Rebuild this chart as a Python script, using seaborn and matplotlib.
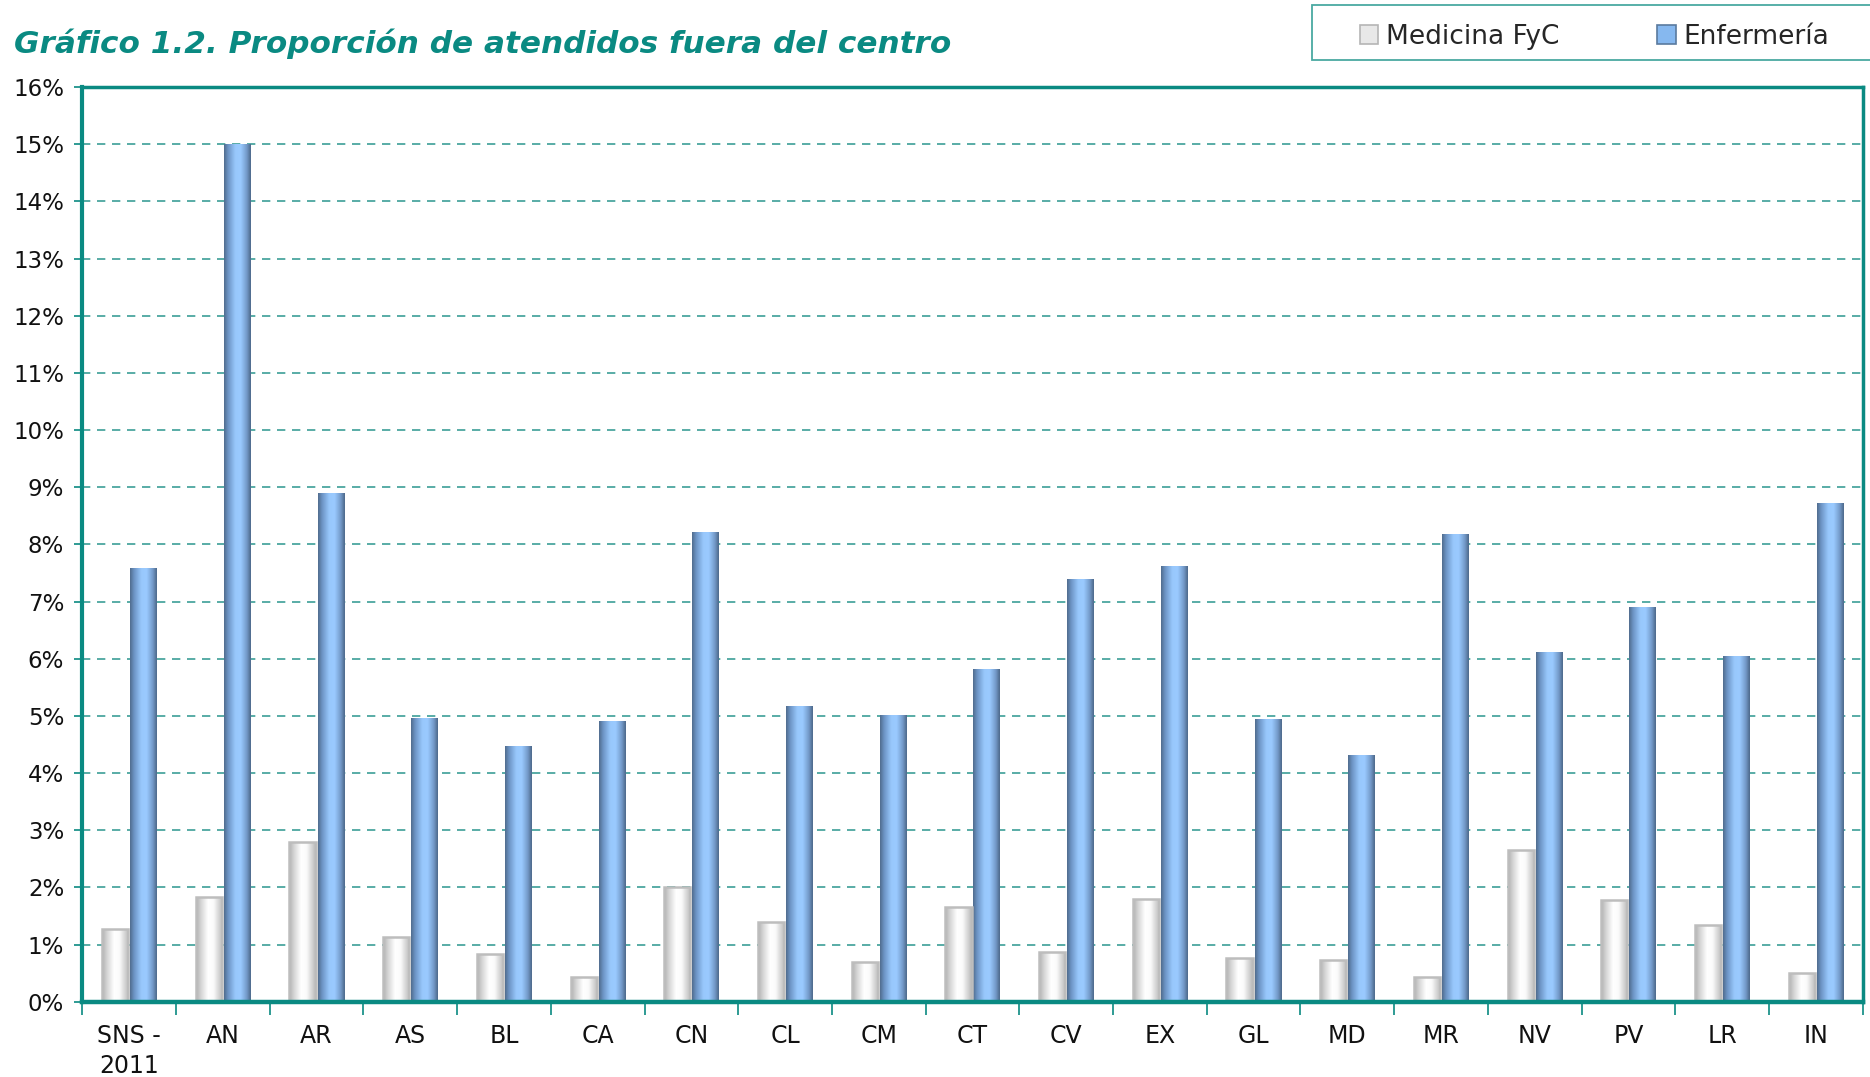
import numpy as np
import pandas as pd
import matplotlib
matplotlib.use("Agg")
import matplotlib.pyplot as plt
from matplotlib.colors import LinearSegmentedColormap
from matplotlib.patches import Patch, Rectangle
from matplotlib.ticker import FuncFormatter, FixedLocator
import seaborn as sns

# ---- data ----
regions = ["SNS -\n2011", "AN", "AR", "AS", "BL", "CA", "CN", "CL", "CM", "CT",
           "CV", "EX", "GL", "MD", "MR", "NV", "PV", "LR", "IN"]
medicina = [1.28, 1.83, 2.80, 1.14, 0.83, 0.43, 2.00, 1.40, 0.69, 1.66,
            0.87, 1.80, 0.76, 0.73, 0.44, 2.65, 1.78, 1.34, 0.51]
enfermeria = [7.59, 15.00, 8.90, 4.96, 4.48, 4.92, 8.22, 5.18, 5.01, 5.82,
              7.39, 7.63, 4.94, 4.32, 8.18, 6.11, 6.90, 6.05, 8.72]
series_names = ["Medicina FyC", "Enfermería"]
title = "Gráfico 1.2. Proporción de atendidos fuera del centro"

df = pd.DataFrame({
    "region": regions * 2,
    "serie": [series_names[0]] * len(regions) + [series_names[1]] * len(regions),
    "valor": medicina + enfermeria,
})

TEAL = "#0a8a82"
GRID = "#3c9e97"
WHITE_BASE = "#e6e6e6"
BLUE_BASE = "#7fb0e6"

sns.set_theme(style="white")
plt.rcParams["font.family"] = ["DejaVu Sans"]

fig = plt.figure(figsize=(18.7, 10.77), dpi=100)
ax = fig.add_axes([0.044, 0.0698, 0.9961 - 0.044, 0.9192 - 0.0698])

sns.barplot(data=df, x="region", y="valor", hue="serie", order=regions,
            hue_order=series_names,
            palette={series_names[0]: WHITE_BASE, series_names[1]: BLUE_BASE},
            width=0.6, gap=0.07, legend=False, ax=ax, zorder=3)

# gradient fills clipped to each bar
cm_white = LinearSegmentedColormap.from_list("w", [
    (0.0, "#aeaeae"), (0.18, "#d4d4d4"), (0.45, "#ffffff"), (0.65, "#fbfbfb"),
    (0.88, "#cfcfcf"), (1.0, "#b4b4b4")])
cm_blue = LinearSegmentedColormap.from_list("b", [
    (0.0, "#4f6b8c"), (0.15, "#6c93c4"), (0.42, "#98c8fc"), (0.62, "#9acaff"),
    (0.85, "#7399c8"), (1.0, "#4c6788")])
grad = np.linspace(0, 1, 256).reshape(1, -1)

bars = list(ax.patches)
for p in bars:
    x, y = p.get_x(), p.get_y()
    w, h = p.get_width(), p.get_height()
    fc = p.get_facecolor()
    is_white = fc[0] > 0.85 and fc[1] > 0.85
    cmap = cm_white if is_white else cm_blue
    im = ax.imshow(grad, cmap=cmap, extent=[x, x + w, y, y + h],
                   aspect="auto", zorder=4, interpolation="bicubic")
    im.set_clip_path(p)
    if is_white:
        p.set_edgecolor("#bdbdbd")
        p.set_linewidth(1.8)
        p.set_zorder(5)
        p.set_facecolor("none")
    else:
        p.set_edgecolor("none")

ax.set_xlim(-0.5, len(regions) - 0.5)
ax.set_ylim(0, 16)

# grid
for v in range(1, 16):
    ax.axhline(v, color=GRID, lw=1.2, ls=(0, (5, 4)), zorder=1)

# spines
for s in ["left", "right", "top", "bottom"]:
    ax.spines[s].set_visible(True)
    ax.spines[s].set_color(TEAL)
ax.spines["left"].set_linewidth(3)
ax.spines["bottom"].set_linewidth(3.2)
ax.spines["top"].set_linewidth(2.5)
ax.spines["right"].set_linewidth(2.5)
ax.spines["bottom"].set_zorder(6)

# ticks
ax.set_yticks(range(0, 17))
ax.yaxis.set_major_formatter(FuncFormatter(lambda v, _: f"{v:.0f}%"))
ax.tick_params(axis="y", which="major", left=True, length=6, width=1.2,
               color=TEAL, labelsize=16.5, pad=7, labelcolor="#111111")
ax.set_xticks(range(len(regions)))
ax.set_xticklabels(regions, linespacing=1.3)
ax.xaxis.set_minor_locator(FixedLocator(np.arange(-0.5, len(regions), 1.0)))
ax.tick_params(axis="x", which="major", bottom=True, length=0, labelsize=17,
               pad=16, labelcolor="#111111")
ax.tick_params(axis="x", which="minor", bottom=True, length=9, width=1.2,
               color=TEAL)
ax.set_xlabel("")
ax.set_ylabel("")

# title
fig.text(0.0075, 1 - 53 / 1077, title, fontsize=22.4, fontweight="bold",
         fontstyle="italic", color=TEAL, ha="left", va="baseline")

# legend box
fig.patches.append(Rectangle((1312 / 1870, 1 - 60 / 1077), 0.31, 55 / 1077,
                             transform=fig.transFigure, facecolor="white",
                             edgecolor="#4aa9a1", lw=1.3, zorder=0))
handles = [Patch(facecolor="#e8e8e8", edgecolor="#b5b5b5", lw=1.2),
           Patch(facecolor="#86b8ef", edgecolor="#5a7a9e", lw=1.2)]
fig.legend(handles, series_names, ncol=2, loc="center left",
           bbox_to_anchor=(1360 / 1870, 1 - 36.5 / 1077), frameon=False,
           borderpad=0, borderaxespad=0, handlelength=0.7, handleheight=0.7,
           handletextpad=0.3, columnspacing=3.7, fontsize=19)

fig.savefig("out.png", dpi=100)
